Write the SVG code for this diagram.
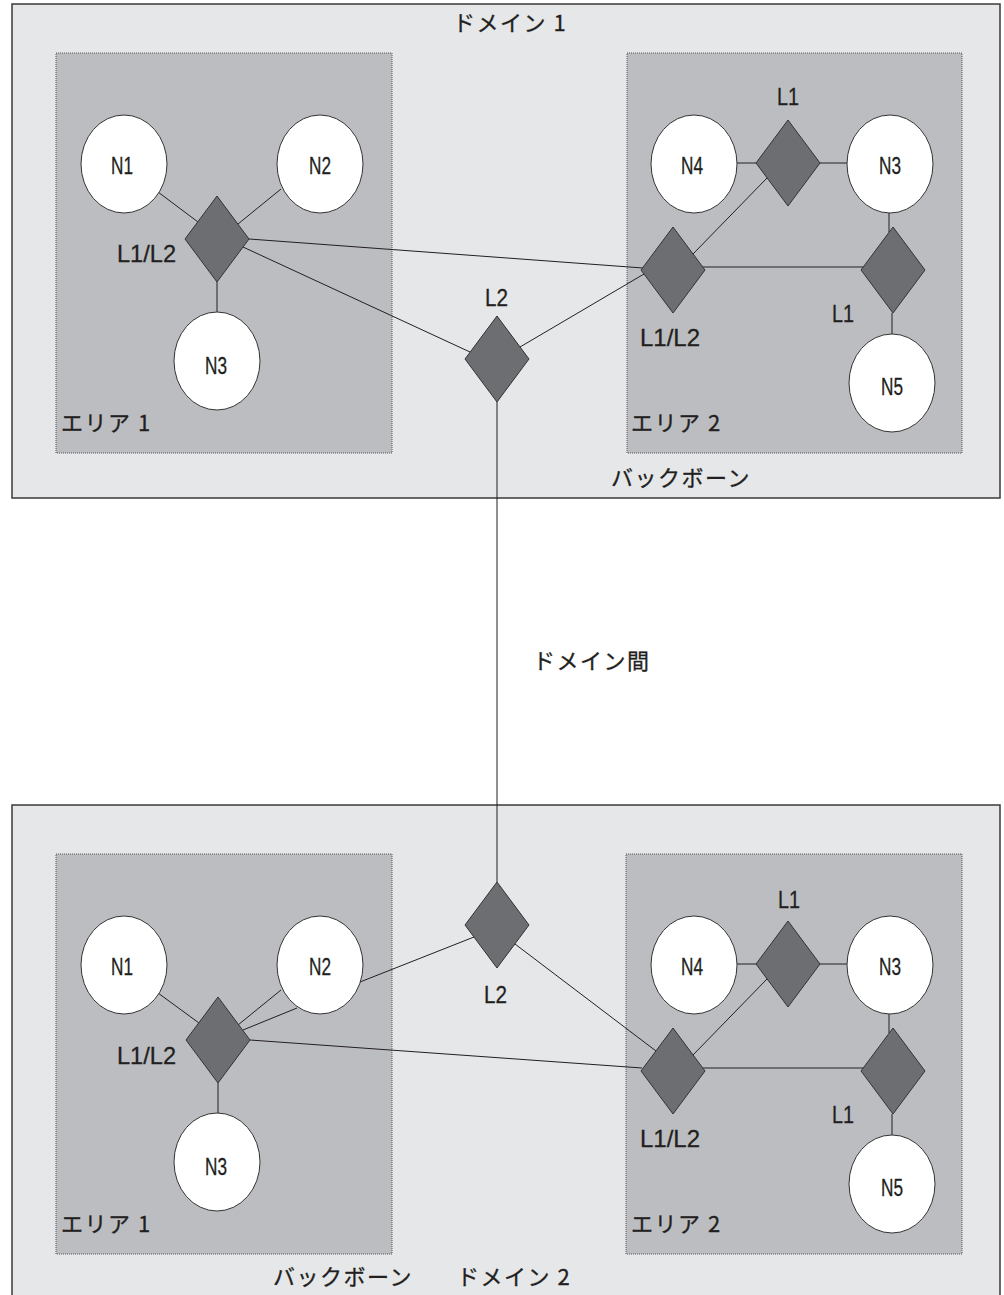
<svg xmlns="http://www.w3.org/2000/svg" width="1004" height="1295" viewBox="0 0 1004 1295">
<style>
.dom{fill:#e6e7e8;stroke:#3a3a3a;stroke-width:1.5}
.area{fill:#bcbdc0;stroke:#555;stroke-width:1;stroke-dasharray:1 1}
.node{fill:#fff;stroke:#333;stroke-width:1}
.rt{fill:#6d6e71;stroke:#333;stroke-width:1}
.ln{stroke:#231f20;stroke-width:1;fill:none}
.lat{font-family:"Liberation Sans",Arial,sans-serif;font-size:24px;fill:#231f20;stroke:#231f20;stroke-width:0.3}
.jp{font-family:"Noto Sans CJK JP","Noto Sans",sans-serif;font-size:22px;fill:#231f20;stroke:#231f20;stroke-width:0.3;letter-spacing:1.5px}
.mid{text-anchor:middle}
</style>
<g id="domain1">
<rect class="dom" x="12" y="4" width="988" height="494"/>
<text class="jp" x="453" y="31">ドメイン 1</text>
<text class="jp" x="611" y="486">バックボーン</text>
</g>
<g id="d1-area1">
<rect class="area" x="56" y="53" width="336" height="400"/>
<text class="jp" x="61" y="431">エリア 1</text>
</g>
<g id="d1-area2">
<rect class="area" x="627" y="53" width="335" height="400"/>
<text class="jp" x="631" y="431">エリア 2</text>
</g>
<g id="domain2">
<rect class="dom" x="12" y="805" width="988" height="500"/>
<text class="jp" x="273" y="1285">バックボーン</text>
<text class="jp" x="457" y="1285">ドメイン 2</text>
</g>
<g id="d2-area1">
<rect class="area" x="56" y="854" width="336" height="400"/>
<text class="jp" x="61" y="1232">エリア 1</text>
</g>
<g id="d2-area2">
<rect class="area" x="626" y="854" width="336" height="400"/>
<text class="jp" x="631" y="1232">エリア 2</text>
</g>
<g id="connectors">
<line class="ln" x1="158" y1="192" x2="198" y2="222"/>
<line class="ln" x1="281" y1="189" x2="238" y2="224"/>
<line class="ln" x1="217" y1="282" x2="217" y2="312"/>
<line class="ln" x1="249" y1="239" x2="643" y2="268"/>
<line class="ln" x1="243" y1="247" x2="470" y2="352"/>
<line class="ln" x1="520" y1="347" x2="644" y2="274"/>
<line class="ln" x1="693" y1="254" x2="767" y2="178"/>
<line class="ln" x1="737" y1="163" x2="756" y2="163"/>
<line class="ln" x1="820" y1="163" x2="847" y2="163"/>
<line class="ln" x1="889" y1="213" x2="889" y2="232"/>
<line class="ln" x1="703" y1="267" x2="864" y2="267"/>
<line class="ln" x1="892" y1="313" x2="892" y2="334"/>
<line class="ln" x1="497" y1="402" x2="497" y2="882"/>
<line class="ln" x1="158" y1="993" x2="199" y2="1023"/>
<line class="ln" x1="281" y1="990" x2="238" y2="1025"/>
<line class="ln" x1="297" y1="1008" x2="243" y2="1030"/>
<line class="ln" x1="218" y1="1083" x2="218" y2="1113"/>
<line class="ln" x1="250" y1="1040" x2="642" y2="1068"/>
<line class="ln" x1="474" y1="937" x2="360" y2="982"/>
<line class="ln" x1="515" y1="944" x2="656" y2="1051"/>
<line class="ln" x1="693" y1="1055" x2="767" y2="979"/>
<line class="ln" x1="737" y1="964" x2="756" y2="964"/>
<line class="ln" x1="820" y1="964" x2="847" y2="964"/>
<line class="ln" x1="889" y1="1014" x2="889" y2="1033"/>
<line class="ln" x1="703" y1="1068" x2="864" y2="1068"/>
<line class="ln" x1="892" y1="1114" x2="892" y2="1135"/>
<text class="jp" x="533" y="669">ドメイン間</text>
</g>
<g id="d1-N1"><ellipse class="node" cx="124" cy="164" rx="43" ry="49"/><text class="lat mid" x="122" y="174" textLength="22" lengthAdjust="spacingAndGlyphs">N1</text></g>
<g id="d1-N2"><ellipse class="node" cx="320" cy="164" rx="43" ry="49"/><text class="lat mid" x="320" y="174" textLength="22" lengthAdjust="spacingAndGlyphs">N2</text></g>
<g id="d1-LL1"><polygon class="rt" points="217,196 249,239 217,282 185,239"/><text class="lat" x="117" y="262" textLength="59" lengthAdjust="spacingAndGlyphs">L1/L2</text></g>
<g id="d1-N3a"><ellipse class="node" cx="217" cy="361" rx="43" ry="49"/><text class="lat mid" x="216" y="374" textLength="22" lengthAdjust="spacingAndGlyphs">N3</text></g>
<g id="d1-L2"><polygon class="rt" points="497,316 529,359 497,402 465,359"/><text class="lat" x="485" y="306" textLength="23" lengthAdjust="spacingAndGlyphs">L2</text></g>
<g id="d1-N4"><ellipse class="node" cx="694" cy="164" rx="43" ry="49"/><text class="lat mid" x="692" y="174" textLength="22" lengthAdjust="spacingAndGlyphs">N4</text></g>
<g id="d1-L1top"><polygon class="rt" points="788,120 820,163 788,206 756,163"/><text class="lat" x="777" y="105" textLength="22" lengthAdjust="spacingAndGlyphs">L1</text></g>
<g id="d1-N3b"><ellipse class="node" cx="890" cy="164" rx="43" ry="49"/><text class="lat mid" x="890" y="174" textLength="22" lengthAdjust="spacingAndGlyphs">N3</text></g>
<g id="d1-LL2"><polygon class="rt" points="673,227 705,270 673,313 641,270"/><text class="lat" x="640" y="346" textLength="60" lengthAdjust="spacingAndGlyphs">L1/L2</text></g>
<g id="d1-L1r"><polygon class="rt" points="893,227 925,270 893,313 861,270"/><text class="lat" x="832" y="322" textLength="22" lengthAdjust="spacingAndGlyphs">L1</text></g>
<g id="d1-N5"><ellipse class="node" cx="892" cy="383" rx="43" ry="49"/><text class="lat mid" x="892" y="395" textLength="22" lengthAdjust="spacingAndGlyphs">N5</text></g>
<g id="d2-N1"><ellipse class="node" cx="124" cy="965" rx="43" ry="49"/><text class="lat mid" x="122" y="975" textLength="22" lengthAdjust="spacingAndGlyphs">N1</text></g>
<g id="d2-N2"><ellipse class="node" cx="320" cy="965" rx="43" ry="49"/><text class="lat mid" x="320" y="975" textLength="22" lengthAdjust="spacingAndGlyphs">N2</text></g>
<g id="d2-LL1"><polygon class="rt" points="218,997 250,1040 218,1083 186,1040"/><text class="lat" x="117" y="1064" textLength="59" lengthAdjust="spacingAndGlyphs">L1/L2</text></g>
<g id="d2-N3a"><ellipse class="node" cx="217" cy="1162" rx="43" ry="49"/><text class="lat mid" x="216" y="1175" textLength="22" lengthAdjust="spacingAndGlyphs">N3</text></g>
<g id="d2-L2"><polygon class="rt" points="497,882 529,925 497,968 465,925"/><text class="lat" x="484" y="1003" textLength="23" lengthAdjust="spacingAndGlyphs">L2</text></g>
<g id="d2-N4"><ellipse class="node" cx="694" cy="965" rx="43" ry="49"/><text class="lat mid" x="692" y="975" textLength="22" lengthAdjust="spacingAndGlyphs">N4</text></g>
<g id="d2-L1top"><polygon class="rt" points="788,921 820,964 788,1007 756,964"/><text class="lat" x="778" y="908" textLength="22" lengthAdjust="spacingAndGlyphs">L1</text></g>
<g id="d2-N3b"><ellipse class="node" cx="890" cy="965" rx="43" ry="49"/><text class="lat mid" x="890" y="975" textLength="22" lengthAdjust="spacingAndGlyphs">N3</text></g>
<g id="d2-LL2"><polygon class="rt" points="673,1028 705,1071 673,1114 641,1071"/><text class="lat" x="640" y="1147" textLength="60" lengthAdjust="spacingAndGlyphs">L1/L2</text></g>
<g id="d2-L1r"><polygon class="rt" points="893,1028 925,1071 893,1114 861,1071"/><text class="lat" x="832" y="1123" textLength="22" lengthAdjust="spacingAndGlyphs">L1</text></g>
<g id="d2-N5"><ellipse class="node" cx="892" cy="1184" rx="43" ry="49"/><text class="lat mid" x="892" y="1196" textLength="22" lengthAdjust="spacingAndGlyphs">N5</text></g>
</svg>
